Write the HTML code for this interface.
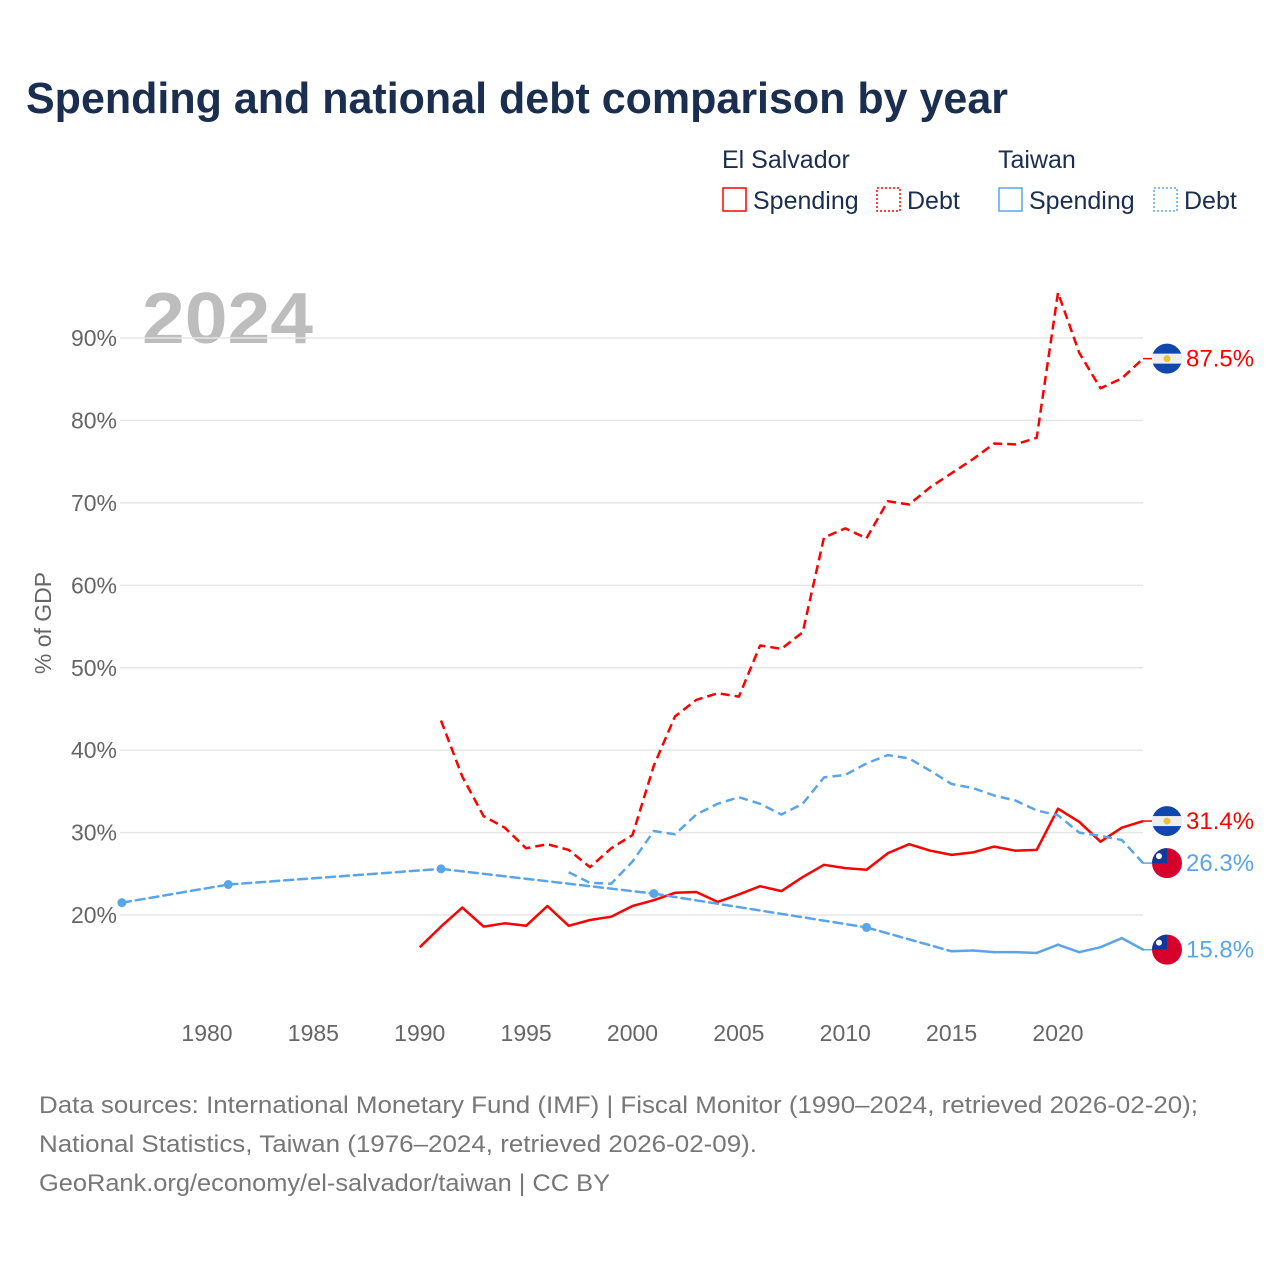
<!DOCTYPE html>
<html><head><meta charset="utf-8">
<style>
body{margin:0;background:#fff;font-family:"Liberation Sans",sans-serif;}
#wrap{position:relative;width:1280px;height:1280px;overflow:hidden;}
</style></head>
<body>
<div id="wrap">
<svg id="chart" width="1280" height="1280" style="position:absolute;left:0;top:0;font-family:'Liberation Sans',sans-serif">
<text x="26" y="113" font-size="44" font-weight="bold" fill="#1a2e50" textLength="982" lengthAdjust="spacingAndGlyphs">Spending and national debt comparison by year</text>
<g font-size="25" fill="#1a2e50">
<text x="722" y="168">El Salvador</text>
<rect x="723" y="188" width="23" height="23" fill="none" stroke="#ff0000" stroke-width="1.5"/>
<text x="753" y="209">Spending</text>
<rect x="877" y="188" width="23" height="23" fill="none" stroke="#ff0000" stroke-width="1.5" stroke-dasharray="2,2"/>
<text x="907" y="209">Debt</text>
<text x="998" y="168">Taiwan</text>
<rect x="999" y="188" width="23" height="23" fill="none" stroke="#5aa5ea" stroke-width="1.5"/>
<text x="1029" y="209">Spending</text>
<rect x="1154" y="188" width="23" height="23" fill="none" stroke="#5aa5ea" stroke-width="1.5" stroke-dasharray="2,2"/>
<text x="1184" y="209">Debt</text>
</g>
<text x="142" y="343" font-size="72" font-weight="bold" fill="#bdbdbd" textLength="171" lengthAdjust="spacingAndGlyphs">2024</text>
<text transform="translate(51,623) rotate(-90)" text-anchor="middle" font-size="23" fill="#666">% of GDP</text>
<g id="grid"></g><g id="series"></g><g id="labels"></g>
<g font-size="24" fill="#777">
<text x="39" y="1113" textLength="1159" lengthAdjust="spacingAndGlyphs">Data sources: International Monetary Fund (IMF) | Fiscal Monitor (1990–2024, retrieved 2026-02-20);</text>
<text x="39" y="1152" textLength="718" lengthAdjust="spacingAndGlyphs">National Statistics, Taiwan (1976–2024, retrieved 2026-02-09).</text>
<text x="39" y="1191" textLength="571" lengthAdjust="spacingAndGlyphs">GeoRank.org/economy/el-salvador/taiwan | CC BY</text>
</g>
</svg>
</div>
<script>
const yTicks=[20,30,40,50,60,70,80,90];
const xTicks=[1980,1985,1990,1995,2000,2005,2010,2015,2020];
const esSpendYears=[1990,1991,1992,1993,1994,1995,1996,1997,1998,1999,2000,2001,2002,2003,2004,2005,2006,2007,2008,2009,2010,2011,2012,2013,2014,2015,2016,2017,2018,2019,2020,2021,2022,2023,2024];
const esSpend=[16.1,18.6,20.9,18.6,19.0,18.7,21.1,18.7,19.4,19.8,21.1,21.8,22.7,22.8,21.6,22.5,23.5,22.9,24.6,26.1,25.7,25.5,27.5,28.6,27.8,27.3,27.6,28.3,27.8,27.9,32.9,31.3,28.9,30.6,31.4];
const esDebtYears=[1991,1992,1993,1994,1995,1996,1997,1998,1999,2000,2001,2002,2003,2004,2005,2006,2007,2008,2009,2010,2011,2012,2013,2014,2015,2016,2017,2018,2019,2020,2021,2022,2023,2024];
const esDebt=[43.6,36.8,32.0,30.6,28.1,28.6,27.9,25.8,28.1,29.7,38.1,44.1,46.1,46.9,46.5,52.7,52.3,54.3,65.8,66.9,65.7,70.2,69.8,71.9,73.6,75.3,77.2,77.1,77.9,95.5,88.2,83.9,85.1,87.5];
const twDebtYears=[1997,1998,1999,2000,2001,2002,2003,2004,2005,2006,2007,2008,2009,2010,2011,2012,2013,2014,2015,2016,2017,2018,2019,2020,2021,2022,2023,2024];
const twDebt=[25.2,23.9,23.8,26.5,30.2,29.8,32.2,33.5,34.3,33.5,32.2,33.5,36.7,37.0,38.4,39.4,39.0,37.5,35.9,35.4,34.5,33.9,32.7,32.1,30.0,29.6,29.1,26.3];
const twSpendYears=[1976,1981,1991,2001,2011,2015,2016,2017,2018,2019,2020,2021,2022,2023,2024];
const twSpend=[21.5,23.7,25.6,22.6,18.5,15.6,15.7,15.5,15.5,15.4,16.4,15.5,16.1,17.2,15.8];

const X=y=>207+(y-1980)*21.275;
const Y=v=>1079.9-v*8.243;
const NS='http://www.w3.org/2000/svg';
function mk(tag,attrs,parent){const e=document.createElementNS(NS,tag);for(const k in attrs)e.setAttribute(k,attrs[k]);parent.appendChild(e);return e;}
const grid=document.getElementById('grid'),ser=document.getElementById('series'),lab=document.getElementById('labels');
yTicks.forEach(t=>{
 const l=mk('line',{x1:120,x2:1143,y1:Y(t),y2:Y(t),stroke:'#e6e6e6','stroke-width':1.5},grid);
 
 
 const tx=mk('text',{x:117,y:Y(t)+8,'text-anchor':'end','font-size':23,fill:'#666'},grid);
 tx.textContent=t+'%';
 
 
});
xTicks.forEach(t=>{
 const tx=mk('text',{x:X(t),y:1041,'text-anchor':'middle','font-size':23,fill:'#666'},grid);
 tx.textContent=t;
 
 
});
function path(years,vals){return years.map((y,i)=>(i?'L':'M')+X(y).toFixed(1)+','+Y(vals[i]).toFixed(1)).join('');}
function draw(years,vals,color,dash,name){
 const p=mk('path',{d:path(years,vals),fill:'none',stroke:color,'stroke-width':2.5,'stroke-dasharray':dash?'9,5':'none','stroke-linejoin':'round'},ser);
 
 
}
draw(esDebtYears,esDebt,'#ff0000',true,'el-salvador-debt-line');
draw(esSpendYears,esSpend,'#ff0000',false,'el-salvador-spending-line');
draw(twDebtYears,twDebt,'#5aa5ea',true,'taiwan-debt-line');
for(let i=1;i<twSpendYears.length;i++){
 const gap=twSpendYears[i]-twSpendYears[i-1]>1;
 const s=mk('line',{x1:X(twSpendYears[i-1]),y1:Y(twSpend[i-1]),x2:X(twSpendYears[i]),y2:Y(twSpend[i]),stroke:'#5aa5ea','stroke-width':2.5,'stroke-dasharray':gap?'9,5':'none','stroke-linecap':'round'},ser);
 
 
}
twSpendYears.forEach((y,i)=>{
 const prevGap=i===0||y-twSpendYears[i-1]>1, nextGap=i===twSpendYears.length-1||twSpendYears[i+1]-y>1;
 if(prevGap&&nextGap){
  const c=mk('circle',{cx:X(y),cy:Y(twSpend[i]),r:4.5,fill:'#5aa5ea'},ser);
  
  
 }
});
function endLabel(val,color,flag,name){
 const y=Y(val),x=1167;
 mk('line',{x1:1143,x2:1153,y1:y,y2:y,stroke:color,'stroke-width':1.5},lab);
 const g=mk('g',{},lab);
 
 
 if(flag==='sv'){
  mk('circle',{cx:x,cy:y,r:15,fill:'#0f47af'},g);
  mk('rect',{x:x-15,y:y-5,width:30,height:10,fill:'#eee'},g);
  mk('circle',{cx:x,cy:y,r:3.5,fill:'#e8c33a'},g);
 }else{
  mk('circle',{cx:x,cy:y,r:15,fill:'#d7002a'},g);
  mk('path',{d:`M${x-15},${y} A15,15 0 0 1 ${x},${y-15} L${x},${y} Z`,fill:'#12399a'},g);
  mk('circle',{cx:x-8,cy:y-7,r:3,fill:'#fff'},g);
 }
 const t=mk('text',{x:1186,y:y+8,'font-size':24,fill:color},lab);
 t.textContent=val.toFixed(1)+'%';
 
 
}
endLabel(esDebt[esDebt.length-1],'#ff0000','sv','el-salvador-debt');
endLabel(esSpend[esSpend.length-1],'#ff0000','sv','el-salvador-spending');
endLabel(twDebt[twDebt.length-1],'#5aa5ea','tw','taiwan-debt');
endLabel(twSpend[twSpend.length-1],'#5aa5ea','tw','taiwan-spending');
</script>
</body></html>
